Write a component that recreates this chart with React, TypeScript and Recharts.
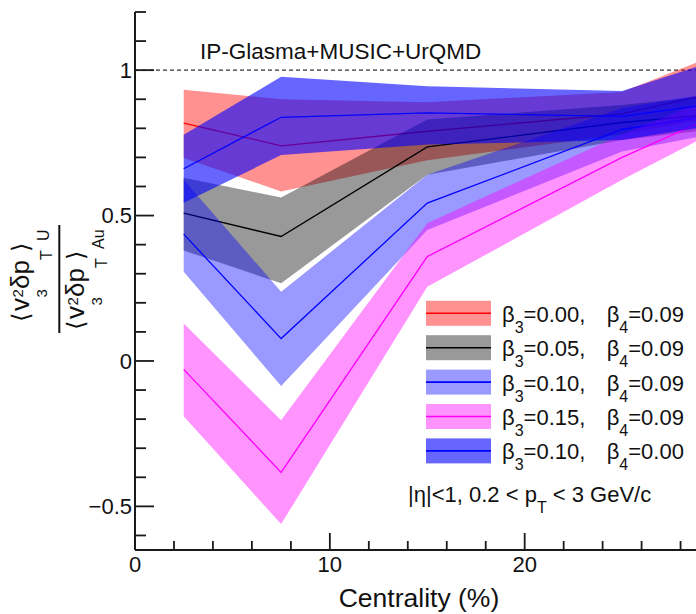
import React from "react";
import { ComposedChart, Area, Line, XAxis, YAxis, ReferenceLine } from "recharts";

// Centrality bin centres (%)
const xs = [2.5, 7.5, 15, 25, 35];

// beta3=0.00, beta4=0.09 (red)
const redMid = [0.818, 0.74, 0.79, 0.85, 1.0];
const redLow = [0.698, 0.583, 0.69, 0.78, 0.9];
const redHigh = [0.933, 0.9, 0.89, 0.925, 1.19];
// beta3=0.05, beta4=0.09 (gray)
const grayMid = [0.508, 0.428, 0.736, 0.82, 0.88];
const grayLow = [0.38, 0.267, 0.64, 0.76, 0.84];
const grayHigh = [0.63, 0.562, 0.83, 0.88, 0.95];
// beta3=0.10, beta4=0.09 (light blue)
const lblueMid = [0.436, 0.077, 0.543, 0.796, 0.9];
const lblueLow = [0.307, -0.086, 0.45, 0.72, 0.85];
const lblueHigh = [0.623, 0.238, 0.64, 0.87, 0.98];
// beta3=0.15, beta4=0.09 (magenta)
const pinkMid = [-0.029, -0.383, 0.359, 0.7, 1.0];
const pinkLow = [-0.19, -0.561, 0.255, 0.623, 0.97];
const pinkHigh = [0.129, -0.204, 0.474, 0.78, 1.05];
// beta3=0.10, beta4=0.00 (blue)
const blueMid = [0.661, 0.838, 0.853, 0.841, 0.934];
const blueLow = [0.544, 0.708, 0.744, 0.76, 0.867];
const blueHigh = [0.778, 0.977, 0.945, 0.928, 1.147];

const beta3Labels = ["0.00", "0.05", "0.10", "0.15", "0.10"];
const beta4Labels = ["0.09", "0.09", "0.09", "0.09", "0.00"];

const xTicks = [0, 2, 4, 6, 8, 10, 12, 14, 16, 18, 20, 22, 24, 26, 28];
const yTicks = [-6, -5, -4, -3, -2, -1, 0, 1, 2, 3, 4, 5, 6, 7, 8, 9, 10, 11, 12].map((i) => i / 10);

const seriesDefs = [
  { key: "red", mid: redMid, low: redLow, high: redHigh, fill: "#ff0000", op: 0.43, line: "#ff0000" },
  { key: "gray", mid: grayMid, low: grayLow, high: grayHigh, fill: "#000000", op: 0.4, line: "#000000" },
  { key: "lblue", mid: lblueMid, low: lblueLow, high: lblueHigh, fill: "#0000ff", op: 0.4, line: "#0000ff" },
  { key: "pink", mid: pinkMid, low: pinkLow, high: pinkHigh, fill: "#ff00ff", op: 0.42, line: "#ff00ff" },
  { key: "blue", mid: blueMid, low: blueLow, high: blueHigh, fill: "#0000ff", op: 0.6, line: "#0000ff" },
];

const data = xs.map((x, i) => {
  const row: any = { x };
  seriesDefs.forEach((s) => {
    row[s.key + "Band"] = [s.low[i], s.high[i]];
    row[s.key + "Mid"] = s.mid[i];
  });
  return row;
});

const FONT = "'Liberation Sans', Arial, Helvetica, sans-serif";
const BRK = "'DejaVu Sans', 'Liberation Sans', sans-serif";
const AX = "#1a1a1a";

const fmtY = (v: number) => {
  if (Math.abs(v - 1) < 1e-9) return "1";
  if (Math.abs(v - 0.5) < 1e-9) return "0.5";
  if (Math.abs(v) < 1e-9) return "0";
  if (Math.abs(v + 0.5) < 1e-9) return "\u22120.5";
  return "";
};

const XTickBottom = (props: any) => {
  const { x, y, payload } = props;
  const v = payload.value;
  const major = Math.abs(v % 10) < 1e-6;
  const len = major ? 17 : 9;
  return (
    <g>
      <line x1={x} x2={x} y1={y} y2={y - len} stroke={AX} strokeWidth={1.8} />
      {major && (
        <text x={x} y={y + 22} textAnchor="middle" fontFamily={FONT} fontSize={22} fill="#111">
          {v}
        </text>
      )}
    </g>
  );
};

const XTickTop = (props: any) => {
  const { x, y, payload } = props;
  const v = payload.value;
  const major = Math.abs(v % 10) < 1e-6;
  const len = major ? 16 : 8;
  return <line x1={x} x2={x} y1={y} y2={y + len} stroke={AX} strokeWidth={1.8} />;
};

const YTickLeft = (props: any) => {
  const { x, y, payload } = props;
  const v = payload.value;
  const major = Math.abs(v * 2 - Math.round(v * 2)) < 1e-6;
  const len = major ? 19 : 11;
  return (
    <g>
      <line x1={x} x2={x + len} y1={y} y2={y} stroke={AX} strokeWidth={1.8} />
      {major && (
        <text x={x - 3} y={y} dy="0.36em" textAnchor="end" fontFamily={FONT} fontSize={22} fill="#111">
          {fmtY(v)}
        </text>
      )}
    </g>
  );
};

const YTickRight = (props: any) => {
  const { x, y, payload } = props;
  const v = payload.value;
  const major = Math.abs(v * 2 - Math.round(v * 2)) < 1e-6;
  const len = major ? 19 : 11;
  return <line x1={x} x2={x - len} y1={y} y2={y} stroke={AX} strokeWidth={1.8} />;
};

// One rotated "<v^2_3 dp_T>_sub" term; pieces placed along the baseline (local x)
const AvgTerm = ({ bx, sy, sub }: { bx: number; sy: number; sub: string }) => (
  <g transform={`translate(${bx},${sy}) rotate(-90)`} fill="#111">
    <text x={0} y={0} fontFamily={BRK} fontSize={24}>{"\u27E8"}</text>
    <text x={11} y={0} fontFamily={FONT} fontSize={26}>v</text>
    <text x={24.5} y={-6} fontFamily={FONT} fontSize={15}>2</text>
    <text x={24.5} y={18} fontFamily={FONT} fontSize={15}>3</text>
    <text x={33} y={0} fontFamily={FONT} fontSize={26}>δp</text>
    <text x={62} y={23} fontFamily={FONT} fontSize={16}>T</text>
    <text x={70} y={0} fontFamily={BRK} fontSize={24}>{"\u27E9"}</text>
    <text x={81} y={20} fontFamily={FONT} fontSize={16}>{sub}</text>
  </g>
);

const legendTop = 321.7;
const legendStep = 34.4;

export default function App() {
  return (
    <div
      style={{
        position: "absolute",
        left: 0,
        top: 0,
        width: 696,
        height: 614,
        overflow: "hidden",
        background: "#fff",
      }}
    >
      <ComposedChart width={704} height={614} data={data} margin={{ top: 12, right: 2, left: 0, bottom: 0 }}>
        <XAxis
          dataKey="x"
          type="number"
          domain={[0, 29.1]}
          allowDataOverflow
          ticks={xTicks}
          interval={0}
          tickSize={0}
          tickMargin={0}
          height={64}
          stroke={AX}
          strokeWidth={2}
          tick={(p: any) => <XTickBottom {...p} />}
        />
        <XAxis
          xAxisId="top"
          orientation="top"
          type="number"
          domain={[0, 29.1]}
          allowDataOverflow
          ticks={xTicks}
          interval={0}
          tickSize={0}
          tickMargin={0}
          height={0}
          stroke={AX}
          strokeWidth={2}
          tick={(p: any) => <XTickTop {...p} />}
        />
        <YAxis
          type="number"
          domain={[-0.65, 1.2]}
          allowDataOverflow
          ticks={yTicks}
          interval={0}
          tickSize={0}
          tickMargin={0}
          width={135}
          stroke={AX}
          strokeWidth={2}
          tick={(p: any) => <YTickLeft {...p} />}
        />
        <YAxis
          yAxisId="right"
          orientation="right"
          type="number"
          domain={[-0.65, 1.2]}
          allowDataOverflow
          ticks={yTicks}
          interval={0}
          tickSize={0}
          tickMargin={0}
          width={0}
          stroke={AX}
          strokeWidth={2}
          tick={(p: any) => <YTickRight {...p} />}
        />
        <ReferenceLine y={1} stroke="#333" strokeDasharray="4 3" strokeWidth={1.2} zIndex={50} />
        {seriesDefs.map((s, i) => [
          <Area
            key={s.key + "a"}
            dataKey={s.key + "Band"}
            type="linear"
            stroke="none"
            fill={s.fill}
            fillOpacity={s.op}
            isAnimationActive={false}
            dot={false}
            activeDot={false}
            zIndex={100 + i * 2}
          />,
          <Line
            key={s.key + "l"}
            dataKey={s.key + "Mid"}
            type="linear"
            stroke={s.line}
            strokeWidth={1.3}
            dot={false}
            activeDot={false}
            isAnimationActive={false}
            zIndex={101 + i * 2}
          />,
        ])}
      </ComposedChart>

      <svg
        width={696}
        height={614}
        style={{ position: "absolute", left: 0, top: 0, pointerEvents: "none" }}
        fontFamily={FONT}
      >
        <text x={200} y={58.5} fontSize={22.5} fill="#111">
          IP-Glasma+MUSIC+UrQMD
        </text>

        {seriesDefs.map((s, i) => {
          const base = legendTop + legendStep * i;
          const cy = base - 8.4;
          return (
            <g key={"lg" + i}>
              <rect x={426} y={cy - 12.5} width={65} height={25} fill={s.fill} fillOpacity={s.op} />
              <line x1={426} x2={491} y1={cy} y2={cy} stroke={s.line} strokeWidth={1.6} />
              <text x={502} y={base} fontSize={22} fill="#111">
                β<tspan fontSize={16} dy={11}>3</tspan>
                <tspan dy={-11}>={beta3Labels[i]},</tspan>
              </text>
              <text x={606.7} y={base} fontSize={22} fill="#111">
                β<tspan fontSize={16} dy={11}>4</tspan>
                <tspan dy={-11}>={beta4Labels[i]}</tspan>
              </text>
            </g>
          );
        })}

        <text x={408} y={501.7} fontSize={22} fill="#111">
          |η|&lt;1, 0.2 &lt; p<tspan fontSize={16} dy={11}>T</tspan>
          <tspan dy={-11}> &lt; 3 GeV/c</tspan>
        </text>

        <text x={419} y={607} fontSize={26.5} textAnchor="middle" fill="#111">
          Centrality (%)
        </text>

        {/* Y-axis title: rotated fraction */}
        <AvgTerm bx={28.5} sy={322} sub="U" />
        <line x1={59.3} x2={59.3} y1={225} y2={333} stroke="#111" strokeWidth={2} />
        <AvgTerm bx={83.5} sy={330} sub="Au" />
      </svg>
    </div>
  );
}
